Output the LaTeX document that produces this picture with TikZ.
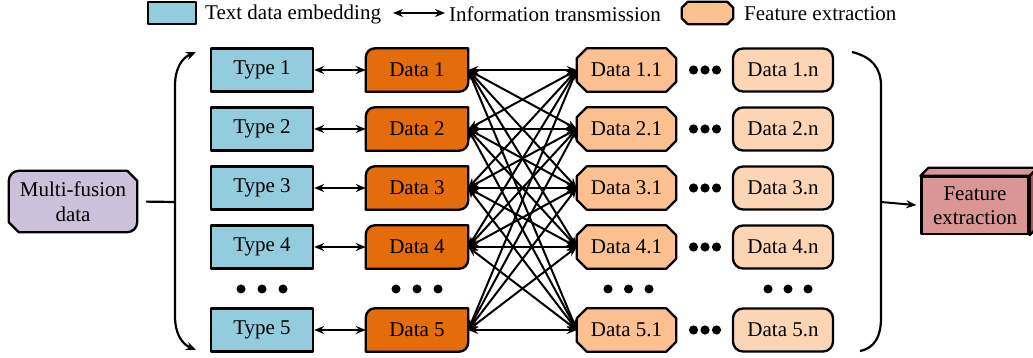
\documentclass[tikz,border=0pt]{standalone}
\usepackage{fontspec}
\setmainfont{Liberation Serif}
\usetikzlibrary{arrows.meta}
\pgfdeclarelayer{background}
\pgfsetlayers{background,main}

\definecolor{typeblue}{HTML}{93CDDD}
\definecolor{dorange}{HTML}{E46C0A}
\definecolor{dfirst}{HTML}{FAC090}
\definecolor{dlast}{HTML}{FCD5B5}
\definecolor{mfpurple}{HTML}{CCC1DA}
\definecolor{featfront}{HTML}{D99694}
\definecolor{featside}{HTML}{C0504D}

\tikzset{
  lbl/.style={font=\fontsize{21}{24.5}\selectfont, text=black},
  frame/.style={lbl, inner sep=0pt, minimum height=43pt, align=center},
  outline/.style={draw=black, line width=2.3pt, line join=round},
  typebox/.style={frame, minimum width=102pt, outline, fill=typeblue},
  databox/.style={frame, minimum width=102pt},
  firstbox/.style={frame, minimum width=99pt},
  lastbox/.style={frame, minimum width=100pt, outline, fill=dlast, rounded corners=10pt},
  bothends/.style={{Stealth[length=10pt,width=8pt]}-{Stealth[length=10pt,width=8pt]}},
  link/.style={line width=2pt, bothends},
  oneway/.style={line width=2pt, -{Stealth[length=10pt,width=8pt]}},
  brace/.style={line width=2.2pt},
  dot/.style={fill=black}
}

% orange block: rounded top-left and bottom-right corners
\newcommand\datashape[1]{%
  \draw[outline, fill=dorange] (#1.south west) -- ([yshift=-9pt]#1.north west)
    arc[start angle=180, end angle=90, radius=9pt] -- (#1.north east)
    -- ([yshift=9pt]#1.south east)
    arc[start angle=0, end angle=-90, radius=9pt] -- cycle;}
% block with all four corners cut off
\newcommand\octshape[3]{%
  \draw[outline, fill=#3] ([xshift=#2]#1.north west) -- ([xshift=-#2]#1.north east)
    -- ([yshift=-#2]#1.north east) -- ([yshift=#2]#1.south east)
    -- ([xshift=-#2]#1.south east) -- ([xshift=#2]#1.south west)
    -- ([yshift=#2]#1.south west) -- ([yshift=-#2]#1.north west) -- cycle;}

\begin{document}
\begin{tikzpicture}[x=1pt, y=1pt]
\useasboundingbox (0,0) rectangle (1033,358);

% ---- legend ----
\node[outline, fill=typeblue, minimum width=48pt, minimum height=22pt, inner sep=0pt] (legT) at (172,345) {};
\node[lbl, anchor=west, inner sep=0pt] (legTt) at (205,344) {Text data embedding};
\coordinate (legA1) at (393,345);
\coordinate (legA2) at (445,345);
\draw[link] (legA1) -- (legA2);
\node[lbl, anchor=west, inner sep=0pt] (legAt) at (449,344) {Information transmission};
\node[inner sep=0pt, minimum width=51pt, minimum height=22pt] (legF) at (707.5,345) {};
\node[lbl, anchor=west, inner sep=0pt] (legFt) at (744,344) {Feature extraction};

% ---- rows ----
\foreach \i/\y in {1/288, 2/229, 3/170, 4/111, 5/28} {
  \node[typebox]  (t\i) at (262,\y)   {Type \i};
  \node[databox]  (d\i) at (417,\y)   {Data \i};
  \node[firstbox] (f\i) at (626.5,\y) {Data \i.1};
  \node[lastbox]  (n\i) at (783,\y)   {Data \i.n};
  \fill[dot] (693.5,\y) circle (4.6pt) (705,\y) circle (4.6pt) (716.5,\y) circle (4.6pt);
}

% ---- column dots ----
\foreach \x in {241,262,283, 396,417,438, 608,628.5,649, 768,788,808}
  \fill[dot] (\x,69) circle (4.5pt);

% ---- shapes behind the labels ----
\begin{pgfonlayer}{background}
  \foreach \i in {1,...,5} {
    \datashape{d\i}
    \octshape{f\i}{10pt}{dfirst}
  }
  \octshape{legF}{6pt}{dfirst}
\end{pgfonlayer}

% ---- links ----
\foreach \i in {1,...,5} {
  \draw[link] (t\i.east) -- (d\i.west);
  \foreach \j in {1,...,5}
    \draw[link] (d\i.east) -- (f\j.west);
}

% ---- input block ----
\node[lbl, inner sep=0pt, minimum width=128pt, minimum height=61pt, align=center] (mf) at (73,156.5) {Multi-fusion\\data};
\begin{pgfonlayer}{background}
  \draw[outline, fill=mfpurple] ([yshift=-10pt]mf.north west)
    arc[start angle=180, end angle=90, radius=10pt] -- ([xshift=-10pt]mf.north east)
    -- ([yshift=-10pt]mf.north east) -- ([yshift=10pt]mf.south east)
    arc[start angle=0, end angle=-90, radius=10pt] -- ([xshift=10pt]mf.south west)
    -- ([yshift=10pt]mf.south west) -- cycle;
\end{pgfonlayer}

% left bracket with arrows at both ends
\coordinate (lbT) at (196,306);
\coordinate (lbB) at (196,8);
\coordinate (lbJ) at (175,156);
\draw[brace, bothends]
  (lbT) .. controls (182,300) and (175,290) .. (175,272) -- (175,42)
  .. controls (175,24) and (182,14) .. (lbB);
\draw[brace, shorten <=9pt] (mf.east) -- (lbJ);

% right bracket
\coordinate (rbT) at (852,306);
\coordinate (rbB) at (860,7);
\coordinate (rbJ) at (881,156);
\draw[brace] (rbT) .. controls (872,301) and (881,290) .. (881,272) -- (881,40)
  .. controls (881,22) and (875,10) .. (rbB);

% ---- output block (box drawn in perspective) ----
\node[lbl, outline, fill=featfront, inner sep=0pt, minimum width=107pt, minimum height=57pt, align=center] (fx) at (975,152.5) {Feature\\extraction};
\draw[outline, fill=featfront] (fx.north west) -- ++(8,8) -- ([shift={(8,8)}]fx.north east) -- (fx.north east) -- cycle;
\draw[outline, fill=featside] (fx.north east) -- ++(8,8) -- ([shift={(8,8)}]fx.south east) -- (fx.south east) -- cycle;
\draw[oneway, shorten >=4pt] (rbJ) -- (fx.west);
\end{tikzpicture}
\end{document}
